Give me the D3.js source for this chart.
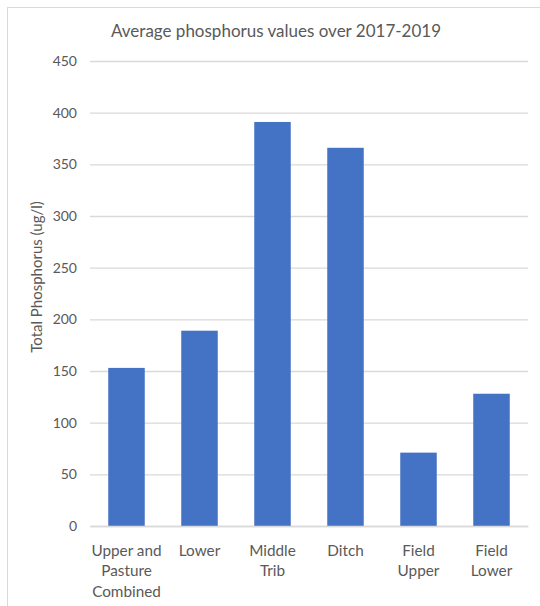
<!DOCTYPE html>
<html>
<head>
<meta charset="utf-8">
<script src="https://cdn.jsdelivr.net/npm/d3@7"></script>
<style>
  html, body { margin: 0; padding: 0; background: #fff; }
  svg { display: block; }
  text { font-family: Lato, "Open Sans", sans-serif; fill: #595959; }
</style>
</head>
<body>
<svg id="chart" width="540" height="606"></svg>
<script>
// Sampling sites and their average total phosphorus (ug/l), 2017-2019
const sites = [
  ["Upper and", "Pasture", "Combined"],
  ["Lower"],
  ["Middle", "Trib"],
  ["Ditch"],
  ["Field", "Upper"],
  ["Field", "Lower"]
];
const phosphorus = [153, 189, 391, 366, 71, 128];
const yTicks = [0, 50, 100, 150, 200, 250, 300, 350, 400, 450];

const chartTitle = "Average phosphorus values over 2017-2019";
const yTitle = "Total Phosphorus (ug/l)";

const svg = d3.select("#chart");
const W = 540, H = 606;
const plot = { left: 90, right: 528, top: 61, bottom: 526 };

// Chart frame (continues past the right and bottom edges)
svg.append("rect")
  .attr("x", 7.5).attr("y", 7.5)
  .attr("width", W + 10).attr("height", H + 10)
  .attr("fill", "#fff")
  .attr("stroke", "#d9d9d9").attr("stroke-width", 1);

const keys = sites.map(d => d.join(" "));

const x = d3.scaleBand()
  .domain(keys)
  .range([plot.left, plot.right])
  .paddingInner(0.5)
  .paddingOuter(0.25);

const y = d3.scaleLinear()
  .domain([0, 450])
  .range([plot.bottom, plot.top]);

// Horizontal gridlines with tick labels
const yAxis = d3.axisLeft(y)
  .tickValues(yTicks)
  .tickSize(-(plot.right - plot.left))
  .tickPadding(13)
  .tickFormat(d3.format("d"));

const gy = svg.append("g")
  .attr("transform", `translate(${plot.left},0)`)
  .call(yAxis);
gy.select(".domain").remove();
gy.selectAll(".tick line").attr("stroke", "#d9d9d9").attr("stroke-width", 1.3);
gy.selectAll(".tick text")
  .attr("fill", "#595959")
  .style("font-size", "14px");

// Bars
svg.append("g")
  .selectAll("rect")
  .data(phosphorus)
  .join("rect")
  .attr("x", (d, i) => x(keys[i]))
  .attr("y", d => y(d))
  .attr("width", x.bandwidth())
  .attr("height", d => y(0) - y(d))
  .attr("fill", "#4472C4");

// Category axis
const xAxis = d3.axisBottom(x).tickSize(0).tickFormat("");
const gx = svg.append("g")
  .attr("transform", `translate(0,${plot.bottom})`)
  .call(xAxis);
gx.select(".domain").attr("stroke", "#d9d9d9").attr("stroke-width", 1.3);

// Multi-line category labels
gx.selectAll(".tick").each(function (k, i) {
  const t = d3.select(this).append("text")
    .attr("text-anchor", "middle")
    .attr("fill", "#595959")
    .style("font-size", "15.3px")
    .attr("y", 29.5);
  sites[i].forEach((line, j) => {
    t.append("tspan").attr("x", 0).attr("dy", j === 0 ? 0 : 20.7).text(line);
  });
});

// Title
svg.append("text")
  .attr("x", 276).attr("y", 36.5)
  .attr("text-anchor", "middle")
  .style("font-size", "17px")
  .text(chartTitle);

// Y-axis title
svg.append("text")
  .attr("transform", `translate(42,${277}) rotate(-90)`)
  .attr("text-anchor", "middle")
  .style("font-size", "15px")
  .text(yTitle);
</script>
</body>
</html>
